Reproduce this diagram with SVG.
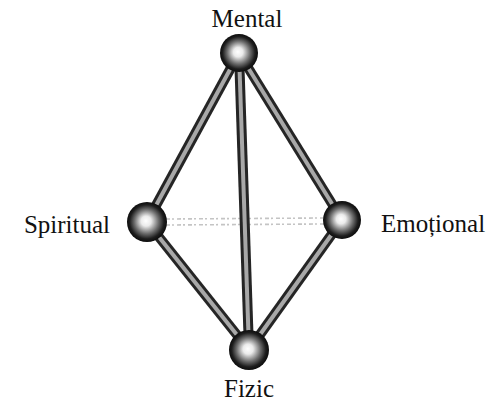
<svg xmlns="http://www.w3.org/2000/svg" width="496" height="405" viewBox="0 0 496 405">
<defs>
<radialGradient id="ball" cx="0.5" cy="0.5" r="0.5" fx="0.47" fy="0.47">
<stop offset="0" stop-color="#ffffff"/>
<stop offset="0.25" stop-color="#ebebeb"/>
<stop offset="0.6" stop-color="#6e6e6e"/>
<stop offset="0.85" stop-color="#1e1e1e"/>
<stop offset="1" stop-color="#0c0c0c"/>
</radialGradient>
</defs>
<style>
.tube-o{stroke:#252525;stroke-width:10;fill:none}
.tube-i{stroke:#a8a8a8;stroke-width:4;fill:none}
.faint{stroke:#c4c4c4;stroke-width:1.6;stroke-dasharray:4 2 2 3;fill:none}
.lbl{font-family:"Liberation Serif","Times New Roman",serif;font-size:25px;fill:#111;text-anchor:middle}
.ball{fill:url(#ball)}
</style>
<rect width="496" height="405" fill="#fff"/>
<g id="connectors">
<line class="faint" x1="166" y1="219" x2="324" y2="218"/>
<line class="faint" x1="166" y1="225" x2="324" y2="224"/>
<line class="tube-o" x1="239" y1="53" x2="147" y2="222"/>
<line class="tube-i" x1="239" y1="53" x2="147" y2="222"/>
<line class="tube-o" x1="239" y1="53" x2="342" y2="220"/>
<line class="tube-i" x1="239" y1="53" x2="342" y2="220"/>
<line class="tube-o" x1="239" y1="53" x2="249" y2="350"/>
<line class="tube-i" x1="239" y1="53" x2="249" y2="350"/>
<line class="tube-o" x1="147" y1="222" x2="249" y2="350"/>
<line class="tube-i" x1="147" y1="222" x2="249" y2="350"/>
<line class="tube-o" x1="342" y1="220" x2="249" y2="350"/>
<line class="tube-i" x1="342" y1="220" x2="249" y2="350"/>
</g>
<g id="mental">
<circle class="ball" cx="239" cy="53" r="19"/>
<text class="lbl" x="247" y="27">Mental</text>
</g>
<g id="spiritual">
<circle class="ball" cx="147" cy="222" r="20"/>
<text class="lbl" x="67" y="233">Spiritual</text>
</g>
<g id="emotional">
<circle class="ball" cx="342" cy="220" r="19"/>
<text class="lbl" x="433" y="232">Emoțional</text>
</g>
<g id="fizic">
<circle class="ball" cx="249" cy="350" r="20"/>
<text class="lbl" x="249" y="397">Fizic</text>
</g>
</svg>
